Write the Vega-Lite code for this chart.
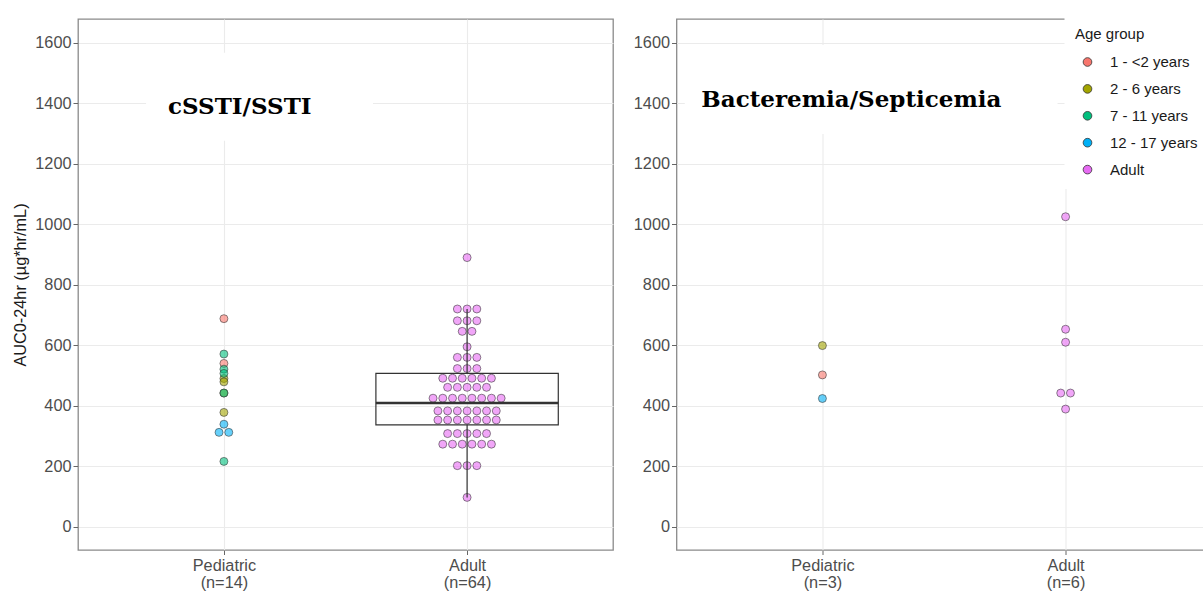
{
  "$schema": "https://vega.github.io/schema/vega-lite/v6.json",
  "background": "white",
  "padding": {"left": 12, "top": 15, "right": 0, "bottom": 0},
  "spacing": 18.5,
  "config": {
    "font": "Liberation Sans",
    "view": {"stroke": "#8a8a8a", "strokeWidth": 1.3},
    "axis": {
      "labelFont": "Liberation Sans", "labelFontSize": 16.3, "labelColor": "#4d4d4d",
      "titleFont": "Liberation Sans", "titleFontSize": 16.3, "titleFontWeight": "normal", "titleColor": "#1a1a1a",
      "tickColor": "#666666", "domain": false, "gridColor": "#ebebeb", "gridWidth": 1.1
    }
  },
  "datasets": {
    "panels": [{"infection": "cSSTI/SSTI"}, {"infection": "Bacteremia/Septicemia"}],
    "boxes": [{"infection": "cSSTI/SSTI", "population": "Adult", "lower": 97, "q1": 337, "median": 409, "q3": 507, "upper": 720}],
    "points": [
      {"infection": "cSSTI/SSTI", "population": "Pediatric", "age": "1 - <2 years", "auc": 688},
      {"infection": "cSSTI/SSTI", "population": "Pediatric", "age": "1 - <2 years", "auc": 540},
      {"infection": "cSSTI/SSTI", "population": "Pediatric", "age": "2 - 6 years", "auc": 490},
      {"infection": "cSSTI/SSTI", "population": "Pediatric", "age": "2 - 6 years", "auc": 479},
      {"infection": "cSSTI/SSTI", "population": "Pediatric", "age": "2 - 6 years", "auc": 442},
      {"infection": "cSSTI/SSTI", "population": "Pediatric", "age": "2 - 6 years", "auc": 378},
      {"infection": "cSSTI/SSTI", "population": "Pediatric", "age": "7 - 11 years", "auc": 571},
      {"infection": "cSSTI/SSTI", "population": "Pediatric", "age": "7 - 11 years", "auc": 521},
      {"infection": "cSSTI/SSTI", "population": "Pediatric", "age": "7 - 11 years", "auc": 507},
      {"infection": "cSSTI/SSTI", "population": "Pediatric", "age": "7 - 11 years", "auc": 442},
      {"infection": "cSSTI/SSTI", "population": "Pediatric", "age": "7 - 11 years", "auc": 216},
      {"infection": "cSSTI/SSTI", "population": "Pediatric", "age": "12 - 17 years", "auc": 339},
      {"infection": "cSSTI/SSTI", "population": "Pediatric", "age": "12 - 17 years", "auc": 312},
      {"infection": "cSSTI/SSTI", "population": "Pediatric", "age": "12 - 17 years", "auc": 312},
      {"infection": "cSSTI/SSTI", "population": "Adult", "age": "Adult", "auc": 890},
      {"infection": "cSSTI/SSTI", "population": "Adult", "age": "Adult", "auc": 720},
      {"infection": "cSSTI/SSTI", "population": "Adult", "age": "Adult", "auc": 720},
      {"infection": "cSSTI/SSTI", "population": "Adult", "age": "Adult", "auc": 720},
      {"infection": "cSSTI/SSTI", "population": "Adult", "age": "Adult", "auc": 681},
      {"infection": "cSSTI/SSTI", "population": "Adult", "age": "Adult", "auc": 681},
      {"infection": "cSSTI/SSTI", "population": "Adult", "age": "Adult", "auc": 681},
      {"infection": "cSSTI/SSTI", "population": "Adult", "age": "Adult", "auc": 646},
      {"infection": "cSSTI/SSTI", "population": "Adult", "age": "Adult", "auc": 646},
      {"infection": "cSSTI/SSTI", "population": "Adult", "age": "Adult", "auc": 595},
      {"infection": "cSSTI/SSTI", "population": "Adult", "age": "Adult", "auc": 560},
      {"infection": "cSSTI/SSTI", "population": "Adult", "age": "Adult", "auc": 560},
      {"infection": "cSSTI/SSTI", "population": "Adult", "age": "Adult", "auc": 560},
      {"infection": "cSSTI/SSTI", "population": "Adult", "age": "Adult", "auc": 523},
      {"infection": "cSSTI/SSTI", "population": "Adult", "age": "Adult", "auc": 523},
      {"infection": "cSSTI/SSTI", "population": "Adult", "age": "Adult", "auc": 523},
      {"infection": "cSSTI/SSTI", "population": "Adult", "age": "Adult", "auc": 491},
      {"infection": "cSSTI/SSTI", "population": "Adult", "age": "Adult", "auc": 491},
      {"infection": "cSSTI/SSTI", "population": "Adult", "age": "Adult", "auc": 491},
      {"infection": "cSSTI/SSTI", "population": "Adult", "age": "Adult", "auc": 491},
      {"infection": "cSSTI/SSTI", "population": "Adult", "age": "Adult", "auc": 491},
      {"infection": "cSSTI/SSTI", "population": "Adult", "age": "Adult", "auc": 491},
      {"infection": "cSSTI/SSTI", "population": "Adult", "age": "Adult", "auc": 461},
      {"infection": "cSSTI/SSTI", "population": "Adult", "age": "Adult", "auc": 461},
      {"infection": "cSSTI/SSTI", "population": "Adult", "age": "Adult", "auc": 461},
      {"infection": "cSSTI/SSTI", "population": "Adult", "age": "Adult", "auc": 461},
      {"infection": "cSSTI/SSTI", "population": "Adult", "age": "Adult", "auc": 461},
      {"infection": "cSSTI/SSTI", "population": "Adult", "age": "Adult", "auc": 425},
      {"infection": "cSSTI/SSTI", "population": "Adult", "age": "Adult", "auc": 425},
      {"infection": "cSSTI/SSTI", "population": "Adult", "age": "Adult", "auc": 425},
      {"infection": "cSSTI/SSTI", "population": "Adult", "age": "Adult", "auc": 425},
      {"infection": "cSSTI/SSTI", "population": "Adult", "age": "Adult", "auc": 425},
      {"infection": "cSSTI/SSTI", "population": "Adult", "age": "Adult", "auc": 425},
      {"infection": "cSSTI/SSTI", "population": "Adult", "age": "Adult", "auc": 425},
      {"infection": "cSSTI/SSTI", "population": "Adult", "age": "Adult", "auc": 425},
      {"infection": "cSSTI/SSTI", "population": "Adult", "age": "Adult", "auc": 383},
      {"infection": "cSSTI/SSTI", "population": "Adult", "age": "Adult", "auc": 383},
      {"infection": "cSSTI/SSTI", "population": "Adult", "age": "Adult", "auc": 383},
      {"infection": "cSSTI/SSTI", "population": "Adult", "age": "Adult", "auc": 383},
      {"infection": "cSSTI/SSTI", "population": "Adult", "age": "Adult", "auc": 383},
      {"infection": "cSSTI/SSTI", "population": "Adult", "age": "Adult", "auc": 383},
      {"infection": "cSSTI/SSTI", "population": "Adult", "age": "Adult", "auc": 383},
      {"infection": "cSSTI/SSTI", "population": "Adult", "age": "Adult", "auc": 353},
      {"infection": "cSSTI/SSTI", "population": "Adult", "age": "Adult", "auc": 353},
      {"infection": "cSSTI/SSTI", "population": "Adult", "age": "Adult", "auc": 353},
      {"infection": "cSSTI/SSTI", "population": "Adult", "age": "Adult", "auc": 353},
      {"infection": "cSSTI/SSTI", "population": "Adult", "age": "Adult", "auc": 353},
      {"infection": "cSSTI/SSTI", "population": "Adult", "age": "Adult", "auc": 353},
      {"infection": "cSSTI/SSTI", "population": "Adult", "age": "Adult", "auc": 353},
      {"infection": "cSSTI/SSTI", "population": "Adult", "age": "Adult", "auc": 308},
      {"infection": "cSSTI/SSTI", "population": "Adult", "age": "Adult", "auc": 308},
      {"infection": "cSSTI/SSTI", "population": "Adult", "age": "Adult", "auc": 308},
      {"infection": "cSSTI/SSTI", "population": "Adult", "age": "Adult", "auc": 308},
      {"infection": "cSSTI/SSTI", "population": "Adult", "age": "Adult", "auc": 308},
      {"infection": "cSSTI/SSTI", "population": "Adult", "age": "Adult", "auc": 273},
      {"infection": "cSSTI/SSTI", "population": "Adult", "age": "Adult", "auc": 273},
      {"infection": "cSSTI/SSTI", "population": "Adult", "age": "Adult", "auc": 273},
      {"infection": "cSSTI/SSTI", "population": "Adult", "age": "Adult", "auc": 273},
      {"infection": "cSSTI/SSTI", "population": "Adult", "age": "Adult", "auc": 273},
      {"infection": "cSSTI/SSTI", "population": "Adult", "age": "Adult", "auc": 273},
      {"infection": "cSSTI/SSTI", "population": "Adult", "age": "Adult", "auc": 202},
      {"infection": "cSSTI/SSTI", "population": "Adult", "age": "Adult", "auc": 202},
      {"infection": "cSSTI/SSTI", "population": "Adult", "age": "Adult", "auc": 202},
      {"infection": "cSSTI/SSTI", "population": "Adult", "age": "Adult", "auc": 97},
      {"infection": "Bacteremia/Septicemia", "population": "Pediatric", "age": "2 - 6 years", "auc": 599},
      {"infection": "Bacteremia/Septicemia", "population": "Pediatric", "age": "1 - <2 years", "auc": 502},
      {"infection": "Bacteremia/Septicemia", "population": "Pediatric", "age": "12 - 17 years", "auc": 424},
      {"infection": "Bacteremia/Septicemia", "population": "Adult", "age": "Adult", "auc": 1025},
      {"infection": "Bacteremia/Septicemia", "population": "Adult", "age": "Adult", "auc": 653},
      {"infection": "Bacteremia/Septicemia", "population": "Adult", "age": "Adult", "auc": 610},
      {"infection": "Bacteremia/Septicemia", "population": "Adult", "age": "Adult", "auc": 442},
      {"infection": "Bacteremia/Septicemia", "population": "Adult", "age": "Adult", "auc": 442},
      {"infection": "Bacteremia/Septicemia", "population": "Adult", "age": "Adult", "auc": 389}
    ]
  },
  "resolve": {"scale": {"x": "independent", "y": "independent", "fill": "independent"}, "legend": {"fill": "independent"}},
  "hconcat": [
    {
      "width": 535,
      "height": 531,
      "layer": [
        {
          "data": {"name": "panels"},
          "transform": [{"filter": "datum.infection === 'cSSTI/SSTI'"}],
          "mark": {"type": "rect", "fill": "white"},
          "encoding": {
            "x": {"datum": 0.68, "type": "quantitative", "scale": {"domain": [0.4, 2.6], "nice": false, "zero": false}, "title": null},
            "x2": {"datum": 1.613},
            "y": {"datum": 1567, "type": "quantitative", "scale": {"domain": [-77, 1679], "nice": false, "zero": false}, "title": "AUC0-24hr (µg*hr/mL)"},
            "y2": {"datum": 1276}
          }
        },
        {
          "data": {"name": "panels"},
          "transform": [{"filter": "datum.infection === 'cSSTI/SSTI'"}],
          "mark": {"type": "text", "font": "DejaVu Serif", "fontWeight": "bold", "fontSize": 23, "align": "center", "baseline": "alphabetic", "color": "#000000"},
          "encoding": {
            "x": {"datum": 1.065, "type": "quantitative", "scale": {"domain": [0.4, 2.6], "nice": false, "zero": false}, "title": null},
            "y": {"datum": 1365, "type": "quantitative", "scale": {"domain": [-77, 1679], "nice": false, "zero": false}, "title": "AUC0-24hr (µg*hr/mL)"},
            "text": {"field": "infection"}
          }
        },
        {
          "data": {"name": "points"},
          "transform": [
            {"filter": "datum.infection === 'cSSTI/SSTI'"},
            {"window": [{"op": "row_number", "as": "k"}], "groupby": ["population", "age", "auc"]},
            {"joinaggregate": [{"op": "count", "as": "m"}], "groupby": ["population", "age", "auc"]},
            {"calculate": "indexof(['Pediatric', 'Adult'], datum.population) + 1 + 0.04 * (datum.k - (datum.m + 1) / 2)", "as": "xpos"}
          ],
          "mark": {"type": "circle", "size": 64, "fillOpacity": 0.6, "stroke": "#333333", "strokeWidth": 0.7, "strokeOpacity": 0.8},
          "encoding": {
            "x": {"field": "xpos", "type": "quantitative", "scale": {"domain": [0.4, 2.6], "nice": false, "zero": false}, "title": null,
                  "axis": {"values": [1, 2], "grid": true, "tickSize": 4.5, "labelPadding": 3, "labelLineHeight": 16.7,
                           "labelExpr": "datum.value === 1 ? ['Pediatric', '(n=14)'] : ['Adult', '(n=64)']"}},
            "y": {"field": "auc", "type": "quantitative", "scale": {"domain": [-77, 1679], "nice": false, "zero": false}, "title": "AUC0-24hr (µg*hr/mL)",
                  "axis": {"values": [0, 200, 400, 600, 800, 1000, 1200, 1400, 1600], "format": "d", "grid": true, "tickSize": 5, "labelPadding": 2, "titlePadding": 6}},
            "fill": {"field": "age", "type": "nominal", "legend": null,
                     "scale": {"domain": ["1 - <2 years", "2 - 6 years", "7 - 11 years", "12 - 17 years", "Adult"],
                               "range": ["#F8766D", "#A3A500", "#00BF7D", "#00B0F6", "#E76BF3"]}}
          }
        },
        {
          "data": {"name": "boxes"},
          "transform": [
            {"filter": "datum.infection === 'cSSTI/SSTI'"},
            {"calculate": "indexof(['Pediatric', 'Adult'], datum.population) + 1", "as": "gx"}
          ],
          "mark": {"type": "rule", "color": "#333333", "strokeWidth": 1.2},
          "encoding": {
            "x": {"field": "gx", "type": "quantitative", "scale": {"domain": [0.4, 2.6], "nice": false, "zero": false}, "title": null},
            "y": {"field": "lower", "type": "quantitative", "scale": {"domain": [-77, 1679], "nice": false, "zero": false}, "title": "AUC0-24hr (µg*hr/mL)"},
            "y2": {"field": "q1"}
          }
        },
        {
          "data": {"name": "boxes"},
          "transform": [
            {"filter": "datum.infection === 'cSSTI/SSTI'"},
            {"calculate": "indexof(['Pediatric', 'Adult'], datum.population) + 1", "as": "gx"}
          ],
          "mark": {"type": "rule", "color": "#333333", "strokeWidth": 1.2},
          "encoding": {
            "x": {"field": "gx", "type": "quantitative", "scale": {"domain": [0.4, 2.6], "nice": false, "zero": false}, "title": null},
            "y": {"field": "q3", "type": "quantitative", "scale": {"domain": [-77, 1679], "nice": false, "zero": false}, "title": "AUC0-24hr (µg*hr/mL)"},
            "y2": {"field": "upper"}
          }
        },
        {
          "data": {"name": "boxes"},
          "transform": [
            {"filter": "datum.infection === 'cSSTI/SSTI'"},
            {"calculate": "indexof(['Pediatric', 'Adult'], datum.population) + 1", "as": "gx"},
            {"calculate": "datum.gx - 0.375", "as": "bx1"},
            {"calculate": "datum.gx + 0.375", "as": "bx2"}
          ],
          "mark": {"type": "rect", "fill": "white", "fillOpacity": 0, "stroke": "#333333", "strokeWidth": 1.2},
          "encoding": {
            "x": {"field": "bx1", "type": "quantitative", "scale": {"domain": [0.4, 2.6], "nice": false, "zero": false}, "title": null},
            "x2": {"field": "bx2"},
            "y": {"field": "q1", "type": "quantitative", "scale": {"domain": [-77, 1679], "nice": false, "zero": false}, "title": "AUC0-24hr (µg*hr/mL)"},
            "y2": {"field": "q3"}
          }
        },
        {
          "data": {"name": "boxes"},
          "transform": [
            {"filter": "datum.infection === 'cSSTI/SSTI'"},
            {"calculate": "indexof(['Pediatric', 'Adult'], datum.population) + 1", "as": "gx"},
            {"calculate": "datum.gx - 0.375", "as": "bx1"},
            {"calculate": "datum.gx + 0.375", "as": "bx2"}
          ],
          "mark": {"type": "rule", "color": "#333333", "strokeWidth": 2.6},
          "encoding": {
            "x": {"field": "bx1", "type": "quantitative", "scale": {"domain": [0.4, 2.6], "nice": false, "zero": false}, "title": null},
            "x2": {"field": "bx2"},
            "y": {"field": "median", "type": "quantitative", "scale": {"domain": [-77, 1679], "nice": false, "zero": false}, "title": "AUC0-24hr (µg*hr/mL)"}
          }
        }
      ]
    },
    {
      "width": 535,
      "height": 531,
      "layer": [
        {
          "data": {"name": "panels"},
          "transform": [{"filter": "datum.infection === 'Bacteremia/Septicemia'"}],
          "mark": {"type": "rect", "fill": "white"},
          "encoding": {
            "x": {"datum": 0.434, "type": "quantitative", "scale": {"domain": [0.4, 2.6], "nice": false, "zero": false}, "title": null},
            "x2": {"datum": 1.967},
            "y": {"datum": 1593, "type": "quantitative", "scale": {"domain": [-77, 1679], "nice": false, "zero": false}, "title": null},
            "y2": {"datum": 1299}
          }
        },
        {
          "data": {"name": "panels"},
          "transform": [{"filter": "datum.infection === 'Bacteremia/Septicemia'"}],
          "mark": {"type": "text", "font": "DejaVu Serif", "fontWeight": "bold", "fontSize": 23, "align": "center", "baseline": "alphabetic", "color": "#000000"},
          "encoding": {
            "x": {"datum": 1.119, "type": "quantitative", "scale": {"domain": [0.4, 2.6], "nice": false, "zero": false}, "title": null},
            "y": {"datum": 1389, "type": "quantitative", "scale": {"domain": [-77, 1679], "nice": false, "zero": false}, "title": null},
            "text": {"field": "infection"}
          }
        },
        {
          "data": {"name": "points"},
          "transform": [
            {"filter": "datum.infection === 'Bacteremia/Septicemia'"},
            {"window": [{"op": "row_number", "as": "k"}], "groupby": ["population", "age", "auc"]},
            {"joinaggregate": [{"op": "count", "as": "m"}], "groupby": ["population", "age", "auc"]},
            {"calculate": "indexof(['Pediatric', 'Adult'], datum.population) + 1 + 0.04 * (datum.k - (datum.m + 1) / 2)", "as": "xpos"}
          ],
          "mark": {"type": "circle", "size": 64, "fillOpacity": 0.6, "stroke": "#333333", "strokeWidth": 0.7, "strokeOpacity": 0.8},
          "encoding": {
            "x": {"field": "xpos", "type": "quantitative", "scale": {"domain": [0.4, 2.6], "nice": false, "zero": false}, "title": null,
                  "axis": {"values": [1, 2], "grid": true, "tickSize": 4.5, "labelPadding": 3, "labelLineHeight": 16.7,
                           "labelExpr": "datum.value === 1 ? ['Pediatric', '(n=3)'] : ['Adult', '(n=6)']"}},
            "y": {"field": "auc", "type": "quantitative", "scale": {"domain": [-77, 1679], "nice": false, "zero": false}, "title": null,
                  "axis": {"values": [0, 200, 400, 600, 800, 1000, 1200, 1400, 1600], "format": "d", "grid": true, "tickSize": 5, "labelPadding": 2}},
            "fill": {"field": "age", "type": "nominal", "title": "Age group",
                     "scale": {"domain": ["1 - <2 years", "2 - 6 years", "7 - 11 years", "12 - 17 years", "Adult"],
                               "range": ["#F8766D", "#A3A500", "#00BF7D", "#00B0F6", "#E76BF3"]},
                     "legend": {"orient": "none", "legendX": 388, "legendY": -3, "fillColor": "white", "padding": 10.5,
                                "titleFont": "Liberation Sans", "titleFontSize": 15, "titleFontWeight": "normal", "titleColor": "#1a1a1a", "titlePadding": 13,
                                "labelFont": "Liberation Sans", "labelFontSize": 15, "labelColor": "#1a1a1a", "labelOffset": 15,
                                "symbolType": "circle", "symbolSize": 75, "symbolStrokeColor": "#333333", "symbolStrokeWidth": 0.8,
                                "symbolOffset": 5, "symbolOpacity": 1, "rowPadding": 10.9,
                                "encode": {"symbols": {"update": {"fillOpacity": {"value": 1}, "strokeOpacity": {"value": 1}}}}}}
          }
        }
      ]
    }
  ]
}
